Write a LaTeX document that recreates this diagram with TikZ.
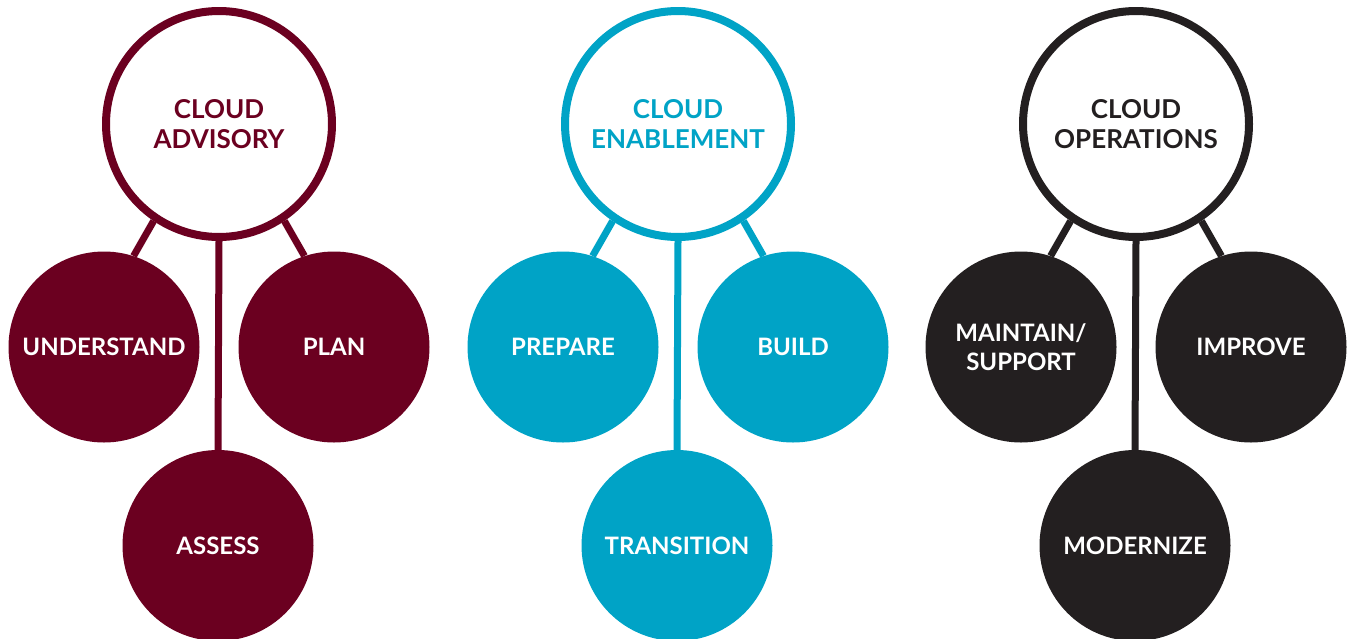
\documentclass[tikz,border=0pt]{standalone}
\usepackage{fontspec}
\setmainfont{Lato}
\definecolor{advisory}{HTML}{6B0020}
\definecolor{enable}{HTML}{00A3C6}
\definecolor{ops}{HTML}{231F20}
\tikzset{
  hub/.style={circle, draw=#1, line width=8pt, fill=white, text=#1,
    minimum size=226pt, inner sep=0pt, align=center,
    font=\fontsize{26}{30}\selectfont\bfseries},
  leaf/.style={circle, fill=#1, text=white, minimum size=191pt,
    inner sep=0pt, align=center,
    font=\fontsize{24}{29}\selectfont\bfseries},
  link/.style={draw=#1, line width=7pt},
}
\begin{document}
\begin{tikzpicture}[x=1pt,y=-1pt]
  \useasboundingbox (0,0) rectangle (1349,638);
  \foreach \cx/\col/\n/\ta/\la/\ra/\ba in {
      219/advisory/A/{CLOUD\\ADVISORY}/UNDERSTAND/PLAN/ASSESS,
      678/enable/E/{CLOUD\\ENABLEMENT}/PREPARE/BUILD/TRANSITION,
      1136/ops/O/{CLOUD\\OPERATIONS}/{MAINTAIN/\\SUPPORT}/IMPROVE/MODERNIZE}
  {
    \node[leaf=\col] (left\n) at (\cx-115,347) {\la};
    \node[leaf=\col] (right\n) at (\cx+115,347) {\ra};
    \node[leaf=\col] (bottom\n) at (\cx-1,545.5) {\ba};
    \node[hub=\col] (hub\n) at (\cx,124) {\ta};
    \draw[link=\col] (hub\n.236) -- (left\n.72);
    \draw[link=\col] (hub\n.304) -- (right\n.108);
    \draw[link=\col] (hub\n.south) -- (bottom\n.north);
  }
\end{tikzpicture}
\end{document}
